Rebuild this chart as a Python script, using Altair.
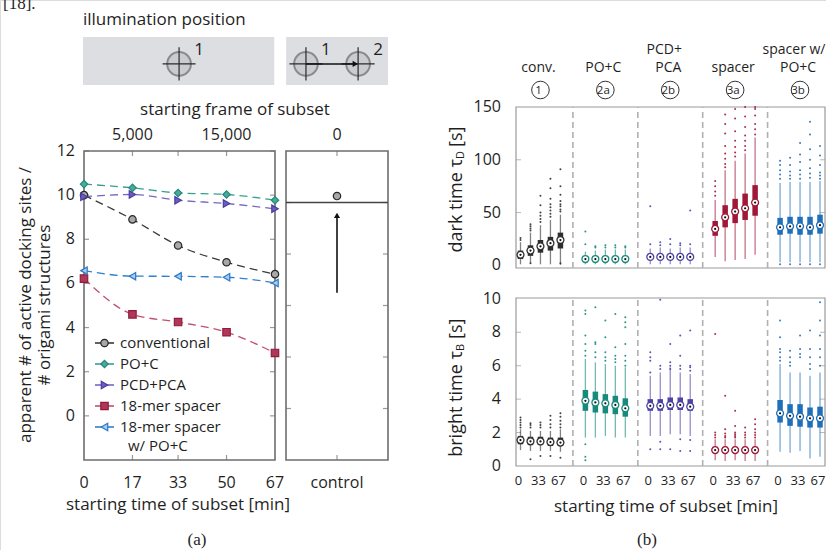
import altair as alt
import pandas as pd

FONT = "Open Sans"
SERIF = "Liberation Serif"
INK = "#1f1f1f"
FRAME_A = "#6e6e6e"
FRAME_B = "#9a9a9a"

# ---------------- panel (a): docking sites ----------------
minutes = [0, 17, 33, 50, 67]
minute_labels = ["0", "17", "33", "50", "67"]
series = ["conventional", "PO+C", "PCD+PCA", "18-mer spacer", "18-mer spacer w/ PO+C"]
legend_labels = ["conventional", "PO+C", "PCD+PCA", "18-mer spacer", "18-mer spacer"]
legend_continuation = ["", "", "", "", "w/ PO+C"]
sites_conventional = [10.0, 8.9, 7.72, 6.96, 6.42]
sites_poc = [10.5, 10.33, 10.1, 10.03, 9.77]
sites_pcd = [9.93, 10.03, 9.77, 9.62, 9.38]
sites_spacer = [6.22, 4.6, 4.25, 3.79, 2.85]
sites_spacer_poc = [6.58, 6.33, 6.32, 6.28, 6.02]
y_ticks_a = [0, 2, 4, 6, 8, 10, 12]
frame_tick_minutes = [17, 50]
frame_tick_labels = ["5,000", "15,000"]
inner_x_ticks_a = [17, 33, 50]

series_fill = ["#a8a8a8", "#4aa99a", "#6a5cc2", "#b2365a", "#a9cdef"]
series_stroke = ["#262626", "#23897b", "#4a3c9c", "#8e1d3d", "#2a78c6"]
series_line = ["#3a3a3a", "#36a090", "#7468c4", "#c0506e", "#2f80cc"]
series_shape = ["circle", "diamond", "triangle-right", "square", "triangle-left"]

# control measurement (normalised)
control_value = 1.025
control_reference = 1.0
control_arrow = [0.65, 0.95]
control_ticks = [0.2, 0.4, 0.6, 0.8, 1.0]

# ---------------- panel (b): box plots ----------------
groups = ["conv.", "PO+C", "PCD+PCA", "spacer", "spacer w/ PO+C"]
group_colors = ["#2e2e2e", "#178a7b", "#4e44a6", "#a01838", "#1f6fb9"]
header_top = ["", "", "PCD+", "", "spacer w/"]
header_mid = ["conv.", "PO+C", "PCA", "spacer", "PO+C"]
header_id = ["1", "2a", "2b", "3a", "3b"]
time_tick_index = [0, 2, 4]
time_tick_labels = ["0", "33", "67"]

dark_med = [[10, 14, 18, 21, 24], [6, 6, 6, 6, 6], [8, 8, 8, 8, 8],
            [34.5, 45.5, 51, 54, 59.5], [36, 37, 37, 36, 38]]
dark_q1 = [[6, 9, 12, 14, 16], [4, 4, 4, 4, 4], [5, 5, 5, 5, 5],
           [28, 36, 40, 43, 47], [29, 30, 29, 29, 30]]
dark_q3 = [[14, 19, 24, 27, 31], [9, 9, 9, 9, 9], [11, 11, 11, 11, 11],
           [42, 57, 63, 68, 76], [45, 46, 46, 46, 48]]
dark_lo = [[1, 2, 1, 1, 0.5], [1, 1, 1, 1, 1], [1, 1, 1, 1, 1],
           [8, 4, 5, 6, 10], [3, 3, 3, 3, 3]]
dark_hi = [[22, 31, 38, 43, 48], [13, 14, 15, 15, 15], [16, 17, 16, 17, 17],
           [62, 90, 99, 106, 121], [78, 79, 79, 79, 80]]
dark_out = [
    [[24, 26], [2, 33, 35, 37, 39], [41, 44, 47, 50, 57, 66], [46, 49, 52, 55, 58, 63, 73, 82],
     [51, 53, 56, 58, 61, 67, 75, 91, 2]],
    [[20, 32], [17, 18], [17, 19], [17, 19], [17, 18]],
    [[20, 56], [19, 22], [20, 25], [19, 21], [20, 52]],
    [[66, 70, 75, 80], [93, 96, 101, 106, 113, 125, 134, 143], [103, 107, 112, 118, 127, 139, 148],
     [109, 113, 118, 123, 131, 141, 150], [124, 129, 134, 142, 148, 150]],
    [[82, 86, 90, 95, 99, 1], [82, 85, 89, 95, 102, 1], [82, 86, 90, 98, 105, 116, 1],
     [83, 87, 92, 100, 110, 124, 136, 1], [82, 85, 88, 95, 104, 113, 1]],
]

bright_med = [[1.55, 1.48, 1.47, 1.43, 1.40], [3.9, 3.8, 3.75, 3.65, 3.45],
              [3.6, 3.6, 3.65, 3.65, 3.55], [0.95, 0.95, 0.95, 0.95, 0.95],
              [3.15, 3.0, 2.95, 2.85, 2.85]]
bright_q1 = [[1.3, 1.25, 1.25, 1.2, 1.2], [3.3, 3.2, 3.15, 3.1, 2.95],
             [3.3, 3.3, 3.35, 3.35, 3.3], [0.8, 0.8, 0.8, 0.8, 0.8],
             [2.6, 2.4, 2.35, 2.3, 2.3]]
bright_q3 = [[1.8, 1.75, 1.75, 1.7, 1.7], [4.55, 4.45, 4.3, 4.2, 4.05],
             [4.0, 4.0, 4.1, 4.1, 4.0], [1.15, 1.15, 1.15, 1.15, 1.15],
             [3.95, 3.7, 3.7, 3.5, 3.55]]
bright_lo = [[0.95, 0.9, 0.9, 0.9, 0.85], [1.7, 1.7, 1.8, 1.7, 1.7],
             [1.8, 1.8, 1.9, 1.9, 1.8], [0.35, 0.3, 0.35, 0.3, 0.3],
             [0.85, 0.8, 0.9, 0.45, 0.55]]
bright_hi = [[2.2, 2.1, 2.1, 2.1, 2.2], [6.4, 6.2, 6.1, 6.0, 5.9],
             [5.4, 5.6, 5.9, 5.6, 5.5], [1.6, 1.6, 1.6, 1.6, 1.6],
             [6.1, 5.6, 5.6, 5.4, 5.6]]
bright_out = [
    [[2.3, 2.45, 2.6, 2.75, 2.9], [2.3, 2.45, 2.55, 0.4], [2.3, 2.45, 2.6, 0.6],
     [2.3, 2.5, 2.75, 3.0, 0.6], [2.3, 2.5, 2.7, 2.95, 3.15, 0.5]],
    [[6.6, 6.9, 7.3, 7.8, 9.1, 9.3, 1.3, 0.55, 0.35], [6.5, 6.8, 7.3, 7.4, 9.5],
     [6.3, 6.5, 6.8, 7.7, 8.7], [6.2, 6.4, 6.6, 7.1, 9.1], [6.0, 6.3, 6.6, 7.3, 8.3, 8.6, 8.9]],
    [[5.6, 6.3, 6.5, 6.8, 1.0], [5.8, 6.0, 9.95, 1.0, 1.45], [5.8, 6.0, 6.2, 7.3, 1.0],
     [5.8, 6.0, 6.6, 7.8, 1.6, 0.9], [5.7, 5.9, 6.0, 8.1, 1.55, 0.9]],
    [[1.7, 1.85, 2.0, 7.9], [1.7, 1.8, 1.95, 2.2, 4.2], [1.7, 1.8, 1.9, 2.0, 2.4, 3.3],
     [1.7, 1.85, 2.0, 2.3], [1.7, 1.85, 2.0, 2.2, 2.5, 2.8]],
    [[6.3, 6.5, 6.8, 7.0, 7.7, 8.7], [6.0, 6.2, 6.5, 6.9], [6.5, 6.7, 7.0, 7.8],
     [5.8, 6.1, 6.5, 7.0, 8.1], [6.0, 6.5, 7.0, 7.8, 8.7, 9.8]],
]
dark_ticks = [0, 50, 100, 150]
bright_ticks = [0, 2, 4, 6, 8, 10]

# ======================================================================
def one_row(**kw):
    return pd.DataFrame({k: [v] for k, v in kw.items()})


def label(text, x, y, size=16, angle=0, align="center", baseline="middle",
          font=FONT, dy=0, color=INK):
    return alt.Chart(one_row(t=text)).mark_text(
        dy=dy, fontSize=size, angle=angle, align=align,
        baseline=baseline, font=font, color=color
    ).encode(text="t:N", x=alt.value(x), y=alt.value(y))


def axes_for(sx, sy):
    X = lambda f: alt.X(f, type="quantitative", scale=sx, axis=None)
    Y = lambda f: alt.Y(f, type="quantitative", scale=sy, axis=None)
    XD = lambda v: alt.XDatum(v, type="quantitative", scale=sx, axis=None)
    YD = lambda v: alt.YDatum(v, type="quantitative", scale=sy, axis=None)
    return X, Y, XD, YD


charts = []

# ---------------- illumination schematic ----------------
sx_i = alt.Scale(domain=[0, 1], range=[83, 388], nice=False, zero=False)
sy_i = alt.Scale(domain=[0, 1], range=[85, 37], nice=False, zero=False)
XI, YI, _, _ = axes_for(sx_i, sy_i)
illum_boxes = pd.DataFrame({"x0": [0.0, 0.666], "x1": [0.627, 1.0], "y0": [0, 0], "y1": [1, 1]})
illum_spots = pd.DataFrame({"x": [0.315, 0.731, 0.902], "y": [0.44] * 3, "lab": ["1", "1", "2"]})
illum_move = pd.DataFrame({"x0": [0.731], "x1": [0.893], "y": [0.44]})

charts += [
    alt.Chart(illum_boxes).mark_rect(color="#dcdee1").encode(
        x=XI("x0"), x2="x1", y=YI("y0"), y2="y1"),
    alt.Chart(illum_spots).mark_point(shape="circle", size=560, filled=True, fill="#c9ccd0",
                                      stroke="#8a8a8a", strokeWidth=2, opacity=1).encode(
        x=XI("x"), y=YI("y")),
    alt.Chart(illum_spots).mark_point(shape="M-1,0L1,0M0,-1L0,1", size=1090, filled=False,
                                      stroke="#2a2a2a", strokeWidth=1.2, opacity=1).encode(
        x=XI("x"), y=YI("y")),
    alt.Chart(illum_move).mark_rule(color="#111", strokeWidth=1.5).encode(
        x=XI("x0"), x2="x1", y=YI("y")),
    alt.Chart(illum_move).mark_point(shape="triangle-right", size=40, filled=True, color="#111",
                                     opacity=1).encode(x=XI("x1"), y=YI("y")),
    alt.Chart(illum_spots).mark_text(dx=20, dy=-14, fontSize=17, font=FONT, color=INK).encode(
        x=XI("x"), y=YI("y"), text="lab:N"),
]

# ---------------- panel (a) main plot ----------------
sx_a = alt.Scale(domain=[0, 67], range=[84, 275], nice=False, zero=False)
sy_a = alt.Scale(domain=[-2, 12], range=[460, 151], nice=False, zero=False)
XA, YA, XAD, YAD = axes_for(sx_a, sy_a)
values_a = [sites_conventional, sites_poc, sites_pcd, sites_spacer, sites_spacer_poc]
df_a = pd.DataFrame([{"series": s, "minute": m, "sites": v}
                     for s, vals in zip(series, values_a) for m, v in zip(minutes, vals)])
frame_a = pd.DataFrame({"x0": [0], "x1": [67], "y0": [-2], "y1": [12]})
yt_a = pd.DataFrame({"v": y_ticks_a, "lab": [str(v) for v in y_ticks_a]})
xt_a = pd.DataFrame({"m": minutes, "lab": minute_labels})
xin_a = pd.DataFrame({"m": inner_x_ticks_a})
top_a = pd.DataFrame({"m": frame_tick_minutes, "lab": frame_tick_labels})

line_col = alt.Color("series:N", scale=alt.Scale(domain=series, range=series_line), legend=None)
pt_fill = alt.Fill("series:N", scale=alt.Scale(domain=series, range=series_fill), legend=None)
pt_stroke = alt.Stroke("series:N", scale=alt.Scale(domain=series, range=series_stroke), legend=None)
pt_shape = alt.Shape("series:N", scale=alt.Scale(domain=series, range=series_shape), legend=None)

charts += [
    alt.Chart(frame_a).mark_rect(fillOpacity=0, stroke=FRAME_A, strokeWidth=1.6).encode(
        x=XA("x0"), x2="x1", y=YA("y0"), y2="y1"),
    alt.Chart(yt_a).mark_tick(orient="horizontal", size=5, thickness=1.2, color=FRAME_A, xOffset=2.5).encode(
        x=XAD(0), y=YA("v")),
    alt.Chart(yt_a).mark_tick(orient="horizontal", size=5, thickness=1.2, color=FRAME_A, xOffset=-2.5).encode(
        x=XAD(67), y=YA("v")),
    alt.Chart(xin_a).mark_tick(orient="vertical", size=5, thickness=1.2, color=FRAME_A, yOffset=-2.5).encode(
        x=XA("m"), y=YAD(-2)),
    alt.Chart(xin_a).mark_tick(orient="vertical", size=5, thickness=1.2, color=FRAME_A, yOffset=2.5).encode(
        x=XA("m"), y=YAD(12)),
    alt.Chart(yt_a).mark_text(align="right", dx=-9, fontSize=16, font=FONT, color=INK).encode(
        x=XAD(0), y=YA("v"), text="lab:N"),
    alt.Chart(xt_a).mark_text(dy=23, fontSize=16, font=FONT, color=INK).encode(
        x=XA("m"), y=YAD(-2), text="lab:N"),
    alt.Chart(top_a).mark_text(dy=-16, fontSize=16, font=FONT, color=INK).encode(
        x=XA("m"), y=YAD(12), text="lab:N"),
    alt.Chart(df_a).mark_line(strokeDash=[8, 5], strokeWidth=1.3, interpolate="monotone").encode(
        x=XA("minute"), y=YA("sites"), color=line_col),
    alt.Chart(df_a).mark_point(filled=True, size=55, strokeWidth=1.2, opacity=1).encode(
        x=XA("minute"), y=YA("sites"), fill=pt_fill, stroke=pt_stroke, shape=pt_shape),
]

# legend of panel (a)
sy_l = alt.Scale(type="point", domain=series, range=[343, 427], padding=0)
YL = alt.Y("series:N", scale=sy_l, axis=None)
leg_df = pd.DataFrame({"series": series, "lab": legend_labels, "lab2": legend_continuation})
leg_cont = leg_df[leg_df["lab2"] != ""]
charts += [
    alt.Chart(leg_df).mark_rule(strokeWidth=1.6).encode(
        x=alt.value(95), x2=alt.value(114), y=YL, color=line_col),
    alt.Chart(leg_df).mark_point(filled=True, size=55, strokeWidth=1.2, opacity=1).encode(
        x=alt.value(104.5), y=YL, fill=pt_fill, stroke=pt_stroke, shape=pt_shape),
    alt.Chart(leg_df).mark_text(align="left", baseline="middle", fontSize=15, font=FONT,
                                color=INK).encode(x=alt.value(120), y=YL, text="lab:N"),
    alt.Chart(leg_cont).mark_text(align="left", baseline="middle", dy=19, fontSize=15, font=FONT,
                                  color=INK).encode(x=alt.value(128), y=YL, text="lab2:N"),
]

# ---------------- panel (a) control ----------------
sx_c = alt.Scale(domain=[0, 1], range=[286, 388], nice=False, zero=False)
sy_c = alt.Scale(domain=[0, 1.2], range=[460, 151], nice=False, zero=False)
XC, YC, XCD, YCD = axes_for(sx_c, sy_c)
frame_c = pd.DataFrame({"x0": [0], "x1": [1], "y0": [0], "y1": [1.2]})
ctrl = pd.DataFrame({"x": [0.5], "v": [control_value], "ref": [control_reference],
                     "a0": [control_arrow[0]], "a1": [control_arrow[1]], "x0": [0], "x1": [1],
                     "lab": ["control"], "top": ["0"]})
ct = pd.DataFrame({"v": control_ticks})

charts += [
    alt.Chart(frame_c).mark_rect(fillOpacity=0, stroke=FRAME_A, strokeWidth=1.6).encode(
        x=XC("x0"), x2="x1", y=YC("y0"), y2="y1"),
    alt.Chart(ct).mark_tick(orient="horizontal", size=5, thickness=1.2, color=FRAME_A, xOffset=2.5).encode(
        x=XCD(0), y=YC("v")),
    alt.Chart(ct).mark_tick(orient="horizontal", size=5, thickness=1.2, color=FRAME_A, xOffset=-2.5).encode(
        x=XCD(1), y=YC("v")),
    alt.Chart(ctrl).mark_tick(orient="vertical", size=5, thickness=1.2, color=FRAME_A, yOffset=-2.5).encode(
        x=XC("x"), y=YCD(0)),
    alt.Chart(ctrl).mark_tick(orient="vertical", size=5, thickness=1.2, color=FRAME_A, yOffset=2.5).encode(
        x=XC("x"), y=YCD(1.2)),
    alt.Chart(ctrl).mark_rule(color="#444", strokeWidth=1.3).encode(
        x=XC("x0"), x2="x1", y=YC("ref")),
    alt.Chart(ctrl).mark_rule(color="#111", strokeWidth=1.6).encode(
        x=XC("x"), y=YC("a0"), y2="a1"),
    alt.Chart(ctrl).mark_point(shape="triangle-up", size=38, filled=True, color="#111", opacity=1).encode(
        x=XC("x"), y=YC("a1")),
    alt.Chart(ctrl).mark_point(shape="circle", size=55, filled=True, fill="#a8a8a8", stroke="#262626",
                               strokeWidth=1.2, opacity=1).encode(x=XC("x"), y=YC("v")),
    alt.Chart(ctrl).mark_text(dy=23, fontSize=16, font=FONT, color=INK).encode(
        x=XC("x"), y=YCD(0), text="lab:N"),
    alt.Chart(ctrl).mark_text(dy=-16, fontSize=16, font=FONT, color=INK).encode(
        x=XC("x"), y=YCD(1.2), text="top:N"),
]

# ---------------- panel (b) ----------------
sx_b = alt.Scale(domain=[-0.45, 30.5], range=[516, 825], nice=False, zero=False)
divider_pos = [6.5 * g - 1.25 for g in range(1, 5)]
grp_col = alt.Color("group:N", scale=alt.Scale(domain=groups, range=group_colors), legend=None)
grp_stroke = alt.Stroke("group:N", scale=alt.Scale(domain=groups, range=group_colors), legend=None)


def box_tables(med, q1, q3, lo, hi, out):
    rows, orows = [], []
    for g, name in enumerate(groups):
        for i in range(len(minutes)):
            pos = 6.5 * g + i
            rows.append(dict(group=name, pos=pos, med=med[g][i], q1=q1[g][i], q3=q3[g][i],
                             lo=lo[g][i], hi=hi[g][i]))
            for v in out[g][i]:
                orows.append(dict(group=name, pos=pos, v=v))
    return pd.DataFrame(rows), pd.DataFrame(orows)


def box_panel(tables, sy, y0, y1, ticks, inner_ticks, label_dx):
    stats, outl = tables
    XB, YB, XBD, YBD = axes_for(sx_b, sy)
    frame = pd.DataFrame({"x0": [-0.45], "x1": [30.5], "y0": [y0], "y1": [y1]})
    div = pd.DataFrame({"x": divider_pos, "y0": [y0] * 4, "y1": [y1] * 4})
    yt = pd.DataFrame({"v": ticks, "lab": [str(v) for v in ticks]})
    yti = pd.DataFrame({"v": inner_ticks})
    return [
        alt.Chart(frame).mark_rect(fillOpacity=0, stroke=FRAME_B, strokeWidth=1.2).encode(
            x=XB("x0"), x2="x1", y=YB("y0"), y2="y1"),
        alt.Chart(div).mark_rule(color="#b0b0b0", strokeWidth=1.6, strokeDash=[6, 4]).encode(
            x=XB("x"), y=YB("y0"), y2="y1"),
        alt.Chart(yti).mark_tick(orient="horizontal", size=5, thickness=1, color=FRAME_B, xOffset=2.5).encode(
            x=XBD(-0.45), y=YB("v")),
        alt.Chart(yti).mark_tick(orient="horizontal", size=5, thickness=1, color=FRAME_B, xOffset=-2.5).encode(
            x=XBD(30.5), y=YB("v")),
        alt.Chart(yt).mark_text(align="right", dx=label_dx, fontSize=16, font=FONT, color=INK).encode(
            x=XBD(-0.45), y=YB("v"), text="lab:N"),
        alt.Chart(stats).mark_rule(strokeWidth=1.3, opacity=0.6).encode(
            x=XB("pos"), y=YB("lo"), y2="hi", color=grp_col),
        alt.Chart(stats).mark_rule(strokeWidth=5.5, opacity=1).encode(
            x=XB("pos"), y=YB("q1"), y2="q3", color=grp_col),
        alt.Chart(outl).mark_point(shape="circle", filled=True, size=4, opacity=0.9).encode(
            x=XB("pos"), y=YB("v"), color=grp_col),
        alt.Chart(stats).mark_point(shape="circle", size=48, fill="white", strokeWidth=1.3, opacity=1).encode(
            x=XB("pos"), y=YB("med"), stroke=grp_stroke),
        alt.Chart(stats).mark_point(shape="circle", size=5, filled=True, color="#111", opacity=1).encode(
            x=XB("pos"), y=YB("med")),
    ], XB, YB, YBD


sy_d = alt.Scale(domain=[-2.5, 150], range=[268, 107], nice=False, zero=False)
sy_b = alt.Scale(domain=[0, 10.05], range=[466, 298], nice=False, zero=False)
dark_layers, XBd, YBd, _ = box_panel(box_tables(dark_med, dark_q1, dark_q3, dark_lo, dark_hi, dark_out),
                                     sy_d, -2.5, 150, dark_ticks, [50, 100], -15)
bright_layers, XBb, YBb, YBbD = box_panel(
    box_tables(bright_med, bright_q1, bright_q3, bright_lo, bright_hi, bright_out),
    sy_b, 0, 10.05, bright_ticks, [2, 4, 6, 8], -15)
charts += dark_layers + bright_layers

hdr = pd.DataFrame({"c": [6.5 * g + 2 for g in range(5)], "top": header_top,
                    "mid": header_mid, "id": header_id})
hdr_top = hdr[hdr["top"] != ""]
charts += [
    alt.Chart(hdr_top).mark_text(fontSize=14, font=FONT, color=INK, dx=-6).encode(
        x=XBd("c"), y=alt.value(50), text="top:N"),
    alt.Chart(hdr).mark_text(fontSize=14, font=FONT, color=INK, dx=-2).encode(
        x=XBd("c"), y=alt.value(68), text="mid:N"),
    alt.Chart(hdr).mark_point(shape="circle", size=310, filled=False, stroke="#333",
                              strokeWidth=1, opacity=1, dx=-2).encode(x=XBd("c"), y=alt.value(90)),
    alt.Chart(hdr).mark_text(fontSize=11.5, font=FONT, color=INK, dx=-2).encode(
        x=XBd("c"), y=alt.value(90.5), text="id:N"),
]
xl = pd.DataFrame([{"p": 6.5 * g + i, "lab": l} for g in range(5)
                   for i, l in zip(time_tick_index, time_tick_labels)])
charts += [
    alt.Chart(xl).mark_text(dy=15, dx=-2, fontSize=13, font=FONT, color=INK).encode(
        x=XBb("p"), y=YBbD(0), text="lab:N"),
]

# ---------------- titles ----------------
charts += [
    label("[18].", 3, 9, size=17, align="left", baseline="alphabetic", font=SERIF),
    label("illumination position", 83, 20, size=17, align="left"),
    label("starting frame of subset", 235, 110, size=17),
    label("apparent # of active docking sites /", 26, 305, size=17, angle=270),
    label("# origami structures", 45, 305, size=17, angle=270),
    label("starting time of subset [min]", 178, 505, size=17),
    label("(a)", 197, 540, size=17, font=SERIF),
    label("starting time of subset [min]", 666, 507, size=17),
    label("(b)", 647, 540, size=17, font=SERIF),
    # dark time tau_D [s]  (dy acts across the rotated text line -> subscript)
    label("dark time \u03c4", 457, 159, size=18, angle=270, align="right"),
    label("D", 457, 159, size=11, angle=270, align="left", dy=4),
    label("[s]", 457, 147, size=18, angle=270, align="left"),
    # bright time tau_B [s]
    label("bright time \u03c4", 457, 351, size=18, angle=270, align="right"),
    label("B", 457, 351, size=11, angle=270, align="left", dy=4),
    label("[s]", 457, 339, size=18, angle=270, align="left"),
]

chart = alt.layer(*charts).resolve_scale(
    x="independent", y="independent", color="independent", fill="independent",
    stroke="independent", shape="independent"
).properties(
    width=826, height=550, padding=0, autosize=alt.AutoSizeParams(type="none")
).configure_view(strokeWidth=0).configure(background="white")

chart.save("out.html", embed_options={"renderer": "svg", "actions": False})
